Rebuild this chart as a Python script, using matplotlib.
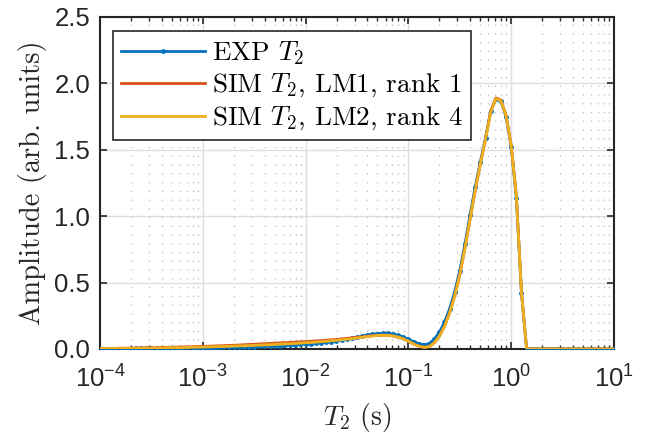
import numpy as np
import matplotlib
matplotlib.use("Agg")
import matplotlib.pyplot as plt
from matplotlib.ticker import FixedLocator, FixedFormatter, LogLocator, NullFormatter

plt.rcParams["mathtext.fontset"] = "custom"
plt.rcParams["mathtext.rm"] = "cmr10"
plt.rcParams["mathtext.it"] = "cmmi10"
plt.rcParams["mathtext.sf"] = "Liberation Sans"
plt.rcParams["font.family"] = ["Liberation Sans", "DejaVu Sans"]

# T2 relaxation-time grid (s), 0.05 decade steps from 1e-4 to 1e1
t2 = np.logspace(-4, 1, 101)

exp_t2 = [
    0.002, 0.002, 0.002, 0.003, 0.003, 0.003, 0.003, 0.004, 0.004, 0.004,
    0.005, 0.005, 0.005, 0.006, 0.006, 0.007, 0.007, 0.008, 0.008, 0.009,
    0.009, 0.010, 0.011, 0.011, 0.012, 0.013, 0.014, 0.015, 0.016, 0.017,
    0.018, 0.019, 0.021, 0.022, 0.024, 0.026, 0.028, 0.030, 0.032, 0.034,
    0.037, 0.040, 0.043, 0.047, 0.051, 0.056, 0.061, 0.067, 0.073, 0.080,
    0.088, 0.096, 0.104, 0.111, 0.116, 0.118, 0.117, 0.112, 0.103, 0.090,
    0.073, 0.055, 0.040, 0.032, 0.040, 0.072, 0.125, 0.200, 0.300, 0.430,
    0.590, 0.790, 1.010, 1.220, 1.410, 1.590, 1.790, 1.885, 1.865, 1.750,
    1.520, 1.140, 0.420, 0.000, 0.000, 0.000, 0.000, 0.000, 0.000, 0.000,
    0.000, 0.000, 0.000, 0.000, 0.000, 0.000, 0.000, 0.000, 0.000, 0.000,
    0.000,
]

sim_lm1 = [
    0.004, 0.004, 0.005, 0.005, 0.006, 0.006, 0.007, 0.007, 0.008, 0.009,
    0.009, 0.010, 0.011, 0.012, 0.013, 0.014, 0.015, 0.016, 0.017, 0.018,
    0.019, 0.021, 0.022, 0.024, 0.025, 0.027, 0.028, 0.030, 0.032, 0.034,
    0.036, 0.038, 0.040, 0.042, 0.044, 0.046, 0.048, 0.050, 0.052, 0.054,
    0.056, 0.058, 0.061, 0.063, 0.066, 0.069, 0.072, 0.076, 0.080, 0.084,
    0.088, 0.092, 0.096, 0.100, 0.103, 0.104, 0.103, 0.098, 0.089, 0.076,
    0.058, 0.038, 0.022, 0.013, 0.018, 0.045, 0.095, 0.170, 0.270, 0.400,
    0.560, 0.760, 0.980, 1.195, 1.395, 1.580, 1.785, 1.890, 1.875, 1.760,
    1.535, 1.155, 0.430, 0.000, 0.000, 0.000, 0.000, 0.000, 0.000, 0.000,
    0.000, 0.000, 0.000, 0.000, 0.000, 0.000, 0.000, 0.000, 0.000, 0.000,
    0.000,
]

sim_lm2 = [
    0.003, 0.003, 0.004, 0.004, 0.004, 0.005, 0.005, 0.006, 0.006, 0.007,
    0.007, 0.008, 0.008, 0.009, 0.010, 0.010, 0.011, 0.012, 0.013, 0.014,
    0.015, 0.016, 0.017, 0.018, 0.019, 0.020, 0.022, 0.023, 0.024, 0.026,
    0.027, 0.029, 0.031, 0.032, 0.034, 0.036, 0.038, 0.040, 0.042, 0.044,
    0.047, 0.049, 0.052, 0.055, 0.058, 0.062, 0.065, 0.069, 0.074, 0.078,
    0.083, 0.088, 0.093, 0.098, 0.102, 0.104, 0.103, 0.099, 0.090, 0.077,
    0.059, 0.038, 0.021, 0.012, 0.017, 0.044, 0.094, 0.168, 0.268, 0.398,
    0.558, 0.758, 0.978, 1.193, 1.393, 1.578, 1.780, 1.885, 1.870, 1.755,
    1.530, 1.150, 0.425, 0.000, 0.000, 0.000, 0.000, 0.000, 0.000, 0.000,
    0.000, 0.000, 0.000, 0.000, 0.000, 0.000, 0.000, 0.000, 0.000, 0.000,
    0.000,
]

x_ticks = [1e-4, 1e-3, 1e-2, 1e-1, 1e0, 1e1]
x_tick_labels = [r"$\mathsf{10^{-4}}$", r"$\mathsf{10^{-3}}$", r"$\mathsf{10^{-2}}$",
                 r"$\mathsf{10^{-1}}$", r"$\mathsf{10^{0}}$", r"$\mathsf{10^{1}}$"]
y_ticks = [0.0, 0.5, 1.0, 1.5, 2.0, 2.5]
y_tick_labels = ["0.0", "0.5", "1.0", "1.5", "2.0", "2.5"]

c_exp = (0.0, 0.447, 0.741)
c_lm1 = (0.850, 0.325, 0.098)
c_lm2 = (0.929, 0.694, 0.125)
dark = "#262626"
serif = "cmr10"

fig = plt.figure(figsize=(6.52, 4.37), dpi=100)
ax = fig.add_axes([100 / 652, 1 - 349 / 437, 514 / 652, 332 / 437])

ax.plot(t2, exp_t2, color=c_exp, lw=2.0, marker=".", markersize=5,
        label=r"EXP $T_2$", zorder=3)
ax.plot(t2, sim_lm1, color=c_lm1, lw=2.0,
        label=r"SIM $T_2$, LM1, rank 1", zorder=4)
ax.plot(t2, sim_lm2, color=c_lm2, lw=2.0,
        label=r"SIM $T_2$, LM2, rank 4", zorder=5)

ax.set_xscale("log")
ax.set_xlim(1e-4, 1e1)
ax.set_ylim(0, 2.5)

ax.xaxis.set_major_locator(FixedLocator(x_ticks))
ax.xaxis.set_major_formatter(FixedFormatter(x_tick_labels))
ax.xaxis.set_minor_locator(LogLocator(base=10, subs=np.arange(2, 10), numticks=20))
ax.xaxis.set_minor_formatter(NullFormatter())
ax.yaxis.set_major_locator(FixedLocator(y_ticks))
ax.yaxis.set_major_formatter(FixedFormatter(y_tick_labels))

ax.grid(True, which="major", color="#dedede", lw=1.0, ls="-", zorder=0)
ax.grid(True, which="minor", axis="x", color="#b8b8b8", lw=0.9, ls=(0, (1, 6)), zorder=0)
ax.set_axisbelow(True)

for sp in ax.spines.values():
    sp.set_color(dark)
    sp.set_linewidth(1.5)

ax.tick_params(which="both", direction="in", top=True, right=True, colors=dark,
               labelcolor=dark)
ax.tick_params(which="major", length=5, width=1.2, labelsize=18.5)
ax.tick_params(which="minor", length=3, width=1.0)
ax.tick_params(axis="x", which="major", pad=12)
ax.tick_params(axis="y", which="major", pad=7)

ax.set_xlabel(r"$T_2$ (s)", fontsize=20, color=dark, family=serif, labelpad=6)
ax.set_ylabel("Amplitude (arb. units)", fontsize=20.5, color=dark, family=serif,
              labelpad=5)

leg = ax.legend(loc="upper left", bbox_to_anchor=(0.0253, 0.958), borderaxespad=0,
                prop={"family": serif, "size": 19.5}, frameon=True, fancybox=False,
                framealpha=1.0, edgecolor=dark, handlelength=3.1, handletextpad=0.25,
                labelspacing=0.2, borderpad=0.3, numpoints=1)
leg.get_frame().set_linewidth(1.2)

fig.savefig("out.png", dpi=100)
